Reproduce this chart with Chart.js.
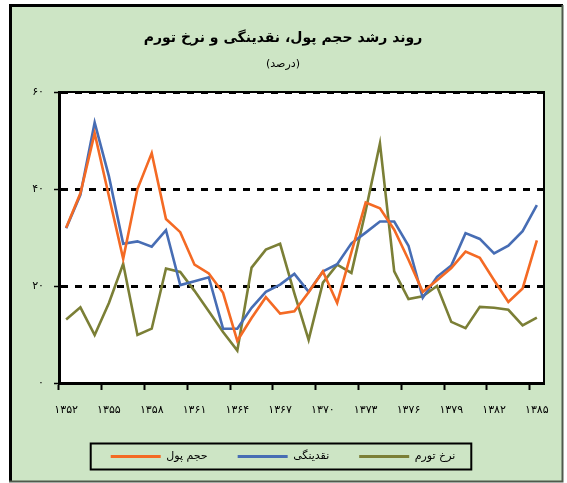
<!DOCTYPE html>
<html lang="fa">
<head>
<meta charset="utf-8">
<title>روند رشد حجم پول، نقدینگی و نرخ تورم</title>
<script src="https://cdn.jsdelivr.net/npm/chart.js@4.4.1/dist/chart.umd.min.js"></script>
<style>
  html, body { margin: 0; padding: 0; background: #fff; }
  #wrap { width: 567px; height: 483px; }
</style>
</head>
<body>
<div id="wrap"><canvas id="chart" width="567" height="483"></canvas></div>
<script>
// years (solar hijri) on the category axis
const years = [1352, 1353, 1354, 1355, 1356, 1357, 1358, 1359, 1360, 1361, 1362, 1363,
  1364, 1365, 1366, 1367, 1368, 1369, 1370, 1371, 1372, 1373, 1374, 1375,
  1376, 1377, 1378, 1379, 1380, 1381, 1382, 1383, 1384, 1385];

// growth rates, percent
const moneyGrowth = [32.0, 39.1, 51.5, 38.5, 25.6, 40.0, 47.4, 33.8, 31.1, 24.4, 22.6, 18.6,
  8.7, 13.4, 17.7, 14.3, 14.8, 18.7, 23.0, 16.5, 27.0, 37.2, 36.0, 31.6,
  25.4, 18.8, 21.2, 23.7, 27.1, 25.8, 21.2, 16.7, 19.5, 29.4];
const liquidityGrowth = [31.9, 38.8, 53.7, 42.6, 28.7, 29.2, 28.1, 31.5, 20.2, 21.0, 21.8, 11.2,
  11.2, 15.5, 18.8, 20.3, 22.5, 18.8, 23.0, 24.5, 28.8, 31.0, 33.3, 33.3,
  28.3, 17.6, 21.9, 24.2, 30.9, 29.7, 26.7, 28.3, 31.3, 36.7];
const inflation = [13.1, 15.6, 9.9, 16.5, 24.6, 9.9, 11.2, 23.6, 22.9, 19.0, 14.8, 10.5,
  6.7, 23.8, 27.5, 28.7, 18.5, 8.9, 20.7, 24.4, 22.7, 35.5, 49.4, 23.0,
  17.3, 17.9, 20.0, 12.6, 11.3, 15.7, 15.5, 15.1, 11.9, 13.5];

const seriesNames = ['حجم پول', 'نقدینگی', 'نرخ تورم'];
const yTicks = [0, 20, 40, 60];
const labelEvery = 3;

const faDigits = '۰۱۲۳۴۵۶۷۸۹';
const toFa = n => String(n).replace(/\d/g, d => faDigits[d]);

const FONT = "'DejaVu Sans', sans-serif";
const LEFT_PAD = 22;

// green panel, frame, plot box and the box round the legend
const framePlugin = {
  id: 'frame',
  beforeDraw(chart) {
    const { ctx, chartArea: a } = chart;
    ctx.save();
    ctx.fillStyle = '#ffffff';
    ctx.fillRect(0, 0, chart.width, chart.height);
    ctx.fillStyle = '#cde5c5';
    ctx.fillRect(10, 5, 553, 477);
    ctx.fillStyle = '#ffffff';
    ctx.fillRect(a.left, a.top, a.right - a.left, a.bottom - a.top);
    ctx.restore();
  },
  beforeDatasetsDraw(chart) {
    const { ctx, chartArea: a } = chart;
    ctx.save();
    ctx.strokeStyle = '#000';
    ctx.lineWidth = 2;
    ctx.beginPath();
    ctx.moveTo(a.left, a.top);
    ctx.lineTo(a.right, a.top);
    ctx.lineTo(a.right, a.bottom);
    ctx.stroke();
    ctx.restore();
  },
  afterDraw(chart) {
    const { ctx } = chart;
    ctx.save();
    // outer frame
    ctx.strokeStyle = '#000';
    ctx.lineWidth = 3;
    ctx.beginPath();
    ctx.moveTo(10.5, 482);
    ctx.lineTo(10.5, 5.5);
    ctx.lineTo(563, 5.5);
    ctx.stroke();
    ctx.strokeStyle = '#4f5a4c';
    ctx.lineWidth = 2;
    ctx.beginPath();
    ctx.moveTo(562.5, 5);
    ctx.lineTo(562.5, 481.5);
    ctx.lineTo(9, 481.5);
    ctx.stroke();

    // box round the legend
    const boxes = chart.legend.legendHitBoxes;
    if (boxes && boxes.length) {
      const left = Math.min(...boxes.map(b => b.left)) - 20;
      const right = Math.max(...boxes.map(b => b.left + b.width)) + 16;
      const mid = boxes[0].top + boxes[0].height / 2;
      ctx.strokeStyle = '#000';
      ctx.lineWidth = 2;
      ctx.strokeRect(left, mid - 13, right - left, 26);
    }
    ctx.restore();
  }
};

const makeSet = (label, data, color) => ({
  label: label,
  data: data,
  borderColor: color,
  backgroundColor: color,
  borderWidth: 2.6,
  pointRadius: 0,
  tension: 0
});

new Chart(document.getElementById('chart').getContext('2d'), {
  type: 'line',
  data: {
    labels: years,
    datasets: [
      makeSet(seriesNames[0], moneyGrowth, '#f46a24'),
      makeSet(seriesNames[1], liquidityGrowth, '#476db4'),
      makeSet(seriesNames[2], inflation, '#7b7f36')
    ]
  },
  options: {
    responsive: false,
    animation: false,
    events: [],
    layout: { padding: { top: 0, left: LEFT_PAD, right: 23, bottom: 11 } },
    plugins: {
      title: {
        display: true,
        text: 'روند رشد حجم پول، نقدینگی و نرخ تورم',
        color: '#000',
        font: { family: FONT, size: 14, weight: 'bold' },
        padding: { top: 30, bottom: 11 }
      },
      subtitle: {
        display: true,
        text: '(درصد)',
        color: '#000',
        font: { family: FONT, size: 11 },
        padding: { top: 0, bottom: 21 }
      },
      legend: {
        position: 'bottom',
        labels: {
          color: '#000',
          font: { family: FONT, size: 11 },
          boxWidth: 50,
          boxHeight: 3,
          padding: 30,
          generateLabels: chart => Chart.defaults.plugins.legend.labels.generateLabels(chart)
            .map(item => ({ ...item, lineWidth: 0 }))
        }
      },
      tooltip: { enabled: false }
    },
    scales: {
      x: {
        offset: true,
        grid: {
          offset: true,
          drawOnChartArea: false,
          tickLength: 7,
          tickWidth: 2,
          tickColor: ctx => (ctx.index % labelEvery === 0 ? '#000' : 'rgba(0,0,0,0)')
        },
        border: { color: '#000', width: 3 },
        ticks: {
          autoSkip: false,
          maxRotation: 0,
          padding: 14,
          color: '#000',
          font: { family: FONT, size: 11 },
          callback: (value, index) => (index % labelEvery === 0 ? toFa(years[index]) : '')
        },
        afterFit: scale => { scale.height = 38; }
      },
      y: {
        min: yTicks[0],
        max: yTicks[yTicks.length - 1],
        afterBuildTicks: scale => { scale.ticks = yTicks.map(v => ({ value: v })); },
        grid: {
          color: '#000',
          lineWidth: 3,
          tickLength: 5,
          tickWidth: 1.5,
          tickColor: '#000'
        },
        border: { color: '#000', width: 3, dash: [7, 7] },
        ticks: {
          padding: 10,
          color: '#000',
          font: { family: FONT, size: 11 },
          callback: value => toFa(value)
        },
        afterFit: scale => { scale.width = 59 - LEFT_PAD; }
      }
    }
  },
  plugins: [framePlugin]
});
</script>
</body>
</html>
